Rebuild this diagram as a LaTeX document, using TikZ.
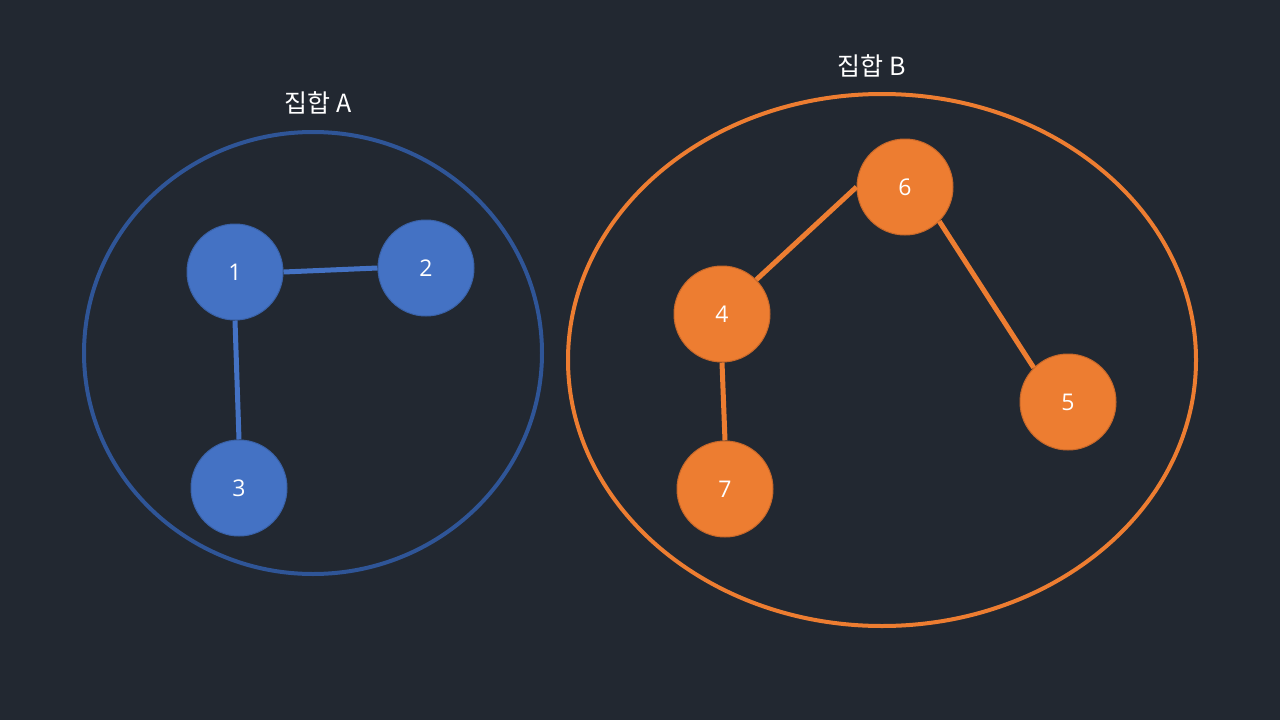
\documentclass[tikz,border=0pt]{standalone}
\usepackage{fontspec}
\setmainfont{Open Sans}
\newfontfamily\kofont{Noto Sans CJK KR}
\definecolor{bgc}{HTML}{222831}
\definecolor{setA}{HTML}{2F5597}
\definecolor{nodeA}{HTML}{4472C4}
\definecolor{nodeArim}{HTML}{3A62A8}
\definecolor{setB}{HTML}{ED7D31}
\definecolor{nodeB}{HTML}{ED7D31}
\definecolor{nodeBrim}{HTML}{C8682A}
\begin{document}
\begin{tikzpicture}[x=1pt,y=-1pt,
  bnode/.style={circle,fill=nodeA,draw=nodeArim,line width=1pt,minimum size=96pt,inner sep=0pt,text=white,font=\fontsize{23}{23}\selectfont},
  onode/.style={circle,fill=nodeB,draw=nodeBrim,line width=1pt,minimum size=96pt,inner sep=0pt,text=white,font=\fontsize{23}{23}\selectfont},
  bedge/.style={draw=nodeA,line width=5pt},
  oedge/.style={draw=nodeB,line width=5pt},
  setlabel/.style={text=white,font=\kofont\fontsize{25}{25}\selectfont}]
\fill[bgc] (0,0) rectangle (1280,720);
\useasboundingbox (0,0) rectangle (1280,720);
% sets
\draw[setA,line width=4pt] (313,353) ellipse [x radius=229,y radius=221];
\draw[setB,line width=4pt] (882,360) ellipse [x radius=314,y radius=266];
\node[setlabel] (la) at (318,103) {집합 A};
\node[setlabel] (lb) at (872,66) {집합 B};
% edges (drawn first, nodes on top)
\coordinate (c1) at (235,272);
\coordinate (c2) at (426,268);
\coordinate (c3) at (239,488);
\coordinate (c6) at (905,187);
\coordinate (c4) at (722,314);
\coordinate (c5) at (1068,402);
\coordinate (c7) at (725,489);
% nodes
\node[bnode] (n1) at (c1) {1};
\node[bnode] (n2) at (c2) {2};
\node[bnode] (n3) at (c3) {3};
\node[onode] (n6) at (c6) {6};
\node[onode] (n4) at (c4) {4};
\node[onode] (n5) at (c5) {5};
\node[onode] (n7) at (c7) {7};
\draw[bedge] (n1.east) -- (n2.west);
\draw[bedge] (n1.south) -- (n3.north);
\draw[oedge] (n4.north east) -- (n6.west);
\draw[oedge] (n6.south east) -- (n5.north west);
\draw[oedge] (n4.south) -- (n7.north);
\end{tikzpicture}
\end{document}
